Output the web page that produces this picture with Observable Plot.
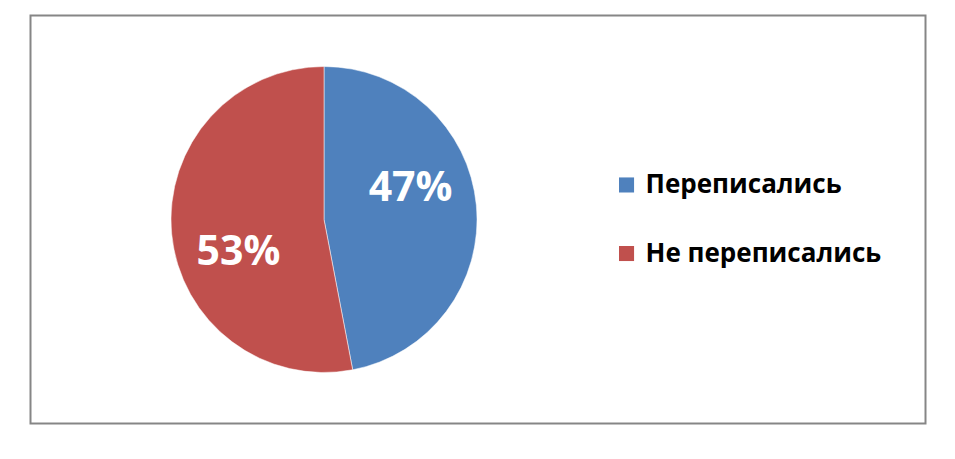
<!DOCTYPE html>
<html>
<head>
<meta charset="utf-8">
<script src="https://cdn.jsdelivr.net/npm/d3@7"></script>
<script src="https://cdn.jsdelivr.net/npm/@observablehq/plot@0.6"></script>
<style>
  html, body { margin: 0; padding: 0; background: #fff; }
  svg { display: block; }
</style>
</head>
<body>
<div id="chart"></div>
<script>
// Survey result: share of people who re-registered
const categories = ["Переписались", "Не переписались"];
const shares = [47, 53];
const colors = ["#4F81BD", "#C0504D"];

const rows = categories.map((name, i) => ({name, share: shares[i], color: colors[i]}));

// Slices start at 12 o'clock and run clockwise
const arcs = d3.pie().sort(null).value(d => d.share)(rows);

// Label placement: inside the slice, slightly before its middle angle
const labelRadius = 0.6;
const labelTurn = -15 * Math.PI / 180;
const labels = arcs.map(a => {
  const ang = (a.startAngle + a.endAngle) / 2 + labelTurn;
  return {text: a.data.share + "%", x: labelRadius * Math.sin(ang), y: labelRadius * Math.cos(ang)};
});

// Legend rows to the right of the pie (in pie-radius units)
const legendX = 1.974;
const legend = rows.map((d, i) => ({...d, x: legendX, y: 0.229 - i * 0.448}));

// Pie wedges drawn through the plot's own x/y scales (unit circle at origin)
function pieMark(index, scales) {
  const cx = scales.x(0), cy = scales.y(0);
  const r = scales.x(1) - scales.x(0);
  const arc = d3.arc().innerRadius(0).outerRadius(r);
  const g = d3.create("svg:g").attr("transform", `translate(${cx},${cy})`);
  g.selectAll("path").data(arcs).join("path")
    .attr("d", arc)
    .attr("fill", d => d.data.color)
    .attr("stroke", "#ffffff")
    .attr("stroke-opacity", 0.5)
    .attr("stroke-width", 1);
  return g.node();
}

const chart = Plot.plot({
  width: 955,
  height: 459,
  marginLeft: 30,
  marginRight: 30,
  marginTop: 15,
  marginBottom: 36,
  x: {domain: [-1.9216, 3.928], axis: null},
  y: {domain: [-1.330, 1.3366], axis: null},
  style: {background: "#ffffff", overflow: "visible"},
  marks: [
    Plot.frame({stroke: "#868686", strokeWidth: 2}),
    pieMark,
    Plot.text(labels, {
      x: "x", y: "y", text: "text",
      fill: "#ffffff", fontSize: 41, fontWeight: "bold",
      fontFamily: "Open Sans, sans-serif"
    }),
    Plot.dot(legend, {
      x: "x", y: "y", symbol: "square", r: 8.5,
      fill: "color", stroke: null
    }),
    Plot.text(legend, {
      x: "x", y: "y", text: "name", dx: 19, textAnchor: "start",
      fill: "#000000", fontSize: 26, fontWeight: "bold",
      fontFamily: "Open Sans, sans-serif"
    })
  ]
});

document.getElementById("chart").append(chart);
</script>
</body>
</html>
